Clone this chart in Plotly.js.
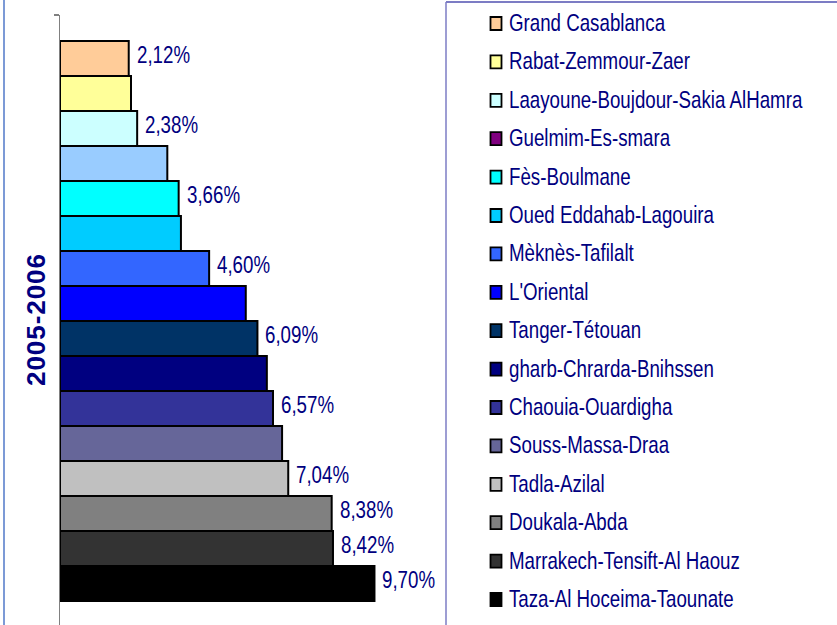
<!DOCTYPE html>
<html>
<head>
<meta charset="utf-8">
<script src="https://cdn.plot.ly/plotly-3.0.1.min.js"></script>
<style>html,body{margin:0;padding:0;background:#fff;}#chart{width:837px;height:625px;}</style>
</head>
<body>
<div id="chart"></div>
<script>
const regions = [
  'Grand Casablanca', 'Rabat-Zemmour-Zaer', 'Laayoune-Boujdour-Sakia AlHamra', 'Guelmim-Es-smara',
  'Fès-Boulmane', 'Oued Eddahab-Lagouira', 'Mèknès-Tafilalt', "L'Oriental",
  'Tanger-Tétouan', 'gharb-Chrarda-Bnihssen', 'Chaouia-Ouardigha', 'Souss-Massa-Draa',
  'Tadla-Azilal', 'Doukala-Abda', 'Marrakech-Tensift-Al Haouz', 'Taza-Al Hoceima-Taounate'
];
const values = [2.12, 2.19, 2.38, 3.31, 3.66, 3.73, 4.60, 5.73, 6.09, 6.38, 6.57, 6.85, 7.04, 8.38, 8.42, 9.70];
const valueLabels = ['2,12%', '', '2,38%', '', '3,66%', '', '4,60%', '', '6,09%', '', '6,57%', '', '7,04%', '8,38%', '8,42%', '9,70%'];
const barColors = ['#FFCC99', '#FFFF99', '#CCFFFF', '#99CCFF', '#00FFFF', '#00CCFF', '#3366FF', '#0000FF',
  '#003366', '#000080', '#333399', '#666699', '#C0C0C0', '#808080', '#333333', '#000000'];
const legendColors = ['#FFCC99', '#FFFF99', '#CCFFFF', '#800080', '#00FFFF', '#00CCFF', '#3366FF', '#0000FF',
  '#003366', '#000080', '#333399', '#666699', '#C0C0C0', '#808080', '#333333', '#000000'];
const categoryLabel = '2005-2006';

const W = 837, H = 625;
const M = {l: 60, r: 388, t: 15, b: 0};
const PW = W - M.l - M.r, PH = H - M.t - M.b;
const xp = px => (px - M.l) / PW;
const yp = py => (H - M.b - py) / PH;

const sans = 'Liberation Sans, Arial, sans-serif';
const navy = '#000080';
const SQUEEZE = 0.78;
const pos = regions.map((_, i) => i);

const trace = {
  type: 'bar', orientation: 'h',
  x: values, y: pos, width: 1,
  marker: {color: barColors, line: {color: '#000000', width: 2}},
  hoverinfo: 'none', showlegend: false
};

const annotations = [];
valueLabels.forEach((t, i) => {
  if (!t) return;
  annotations.push({
    x: values[i], y: pos[i], xref: 'x', yref: 'y', text: t, showarrow: false,
    xanchor: 'left', yanchor: 'middle', align: 'left', xshift: 6, yshift: 4,
    font: {family: sans, size: 24, color: navy}
  });
});

const shapes = [
  {type: 'line', xref: 'paper', yref: 'paper', x0: xp(4), x1: xp(4), y0: yp(0), y1: yp(625),
   line: {color: '#5078c8', width: 1.5}},
  {type: 'line', xref: 'paper', yref: 'paper', x0: xp(446), x1: xp(837), y0: yp(2), y1: yp(2),
   line: {color: '#7c7cc4', width: 2}},
  {type: 'line', xref: 'paper', yref: 'paper', x0: xp(446), x1: xp(446), y0: yp(2), y1: yp(625),
   line: {color: '#7c7cc4', width: 1.5}}
];
regions.forEach((name, i) => {
  const cy = 23.5 + 38.4 * i;
  shapes.push({type: 'rect', xref: 'paper', yref: 'paper',
    x0: xp(490.5), x1: xp(501.5), y0: yp(cy - 6.5), y1: yp(cy + 6.5),
    fillcolor: legendColors[i], line: {color: '#000000', width: 1.8}});
  annotations.push({x: xp(507), y: yp(cy - 1), xref: 'paper', yref: 'paper', text: name,
    showarrow: false, xanchor: 'left', yanchor: 'middle', align: 'left',
    font: {family: sans, size: 24, color: navy}});
});

const layout = {
  width: W, height: H,
  margin: M,
  paper_bgcolor: '#ffffff', plot_bgcolor: 'rgba(0,0,0,0)',
  showlegend: false,
  bargap: 0,
  xaxis: {range: [0, PW / 32.42], visible: false, fixedrange: true},
  yaxis: {
    type: 'linear', range: [-0.5 - 0.743 + PH / 35, -0.5 - 0.743],
    showgrid: false, zeroline: false, showline: true, linecolor: '#808080', linewidth: 1.5,
    ticks: 'outside', ticklen: 5, tickcolor: '#808080', tickwidth: 1.5,
    tickvals: [-0.5 - 0.743], showticklabels: false,
    title: {text: categoryLabel, standoff: 0,
      font: {family: sans, size: 26, color: navy, weight: 'bold'}},
    fixedrange: true
  },
  shapes: shapes,
  annotations: annotations
};

Plotly.newPlot('chart', [trace], layout, {displayModeBar: false, staticPlot: true}).then(gd => {
  // narrow (condensed) look of the original font: scale each text horizontally about its start
  gd.querySelectorAll('text.annotation-text').forEach(el => {
    const x0 = parseFloat(el.getAttribute('x')) || 0;
    const prev = el.getAttribute('transform') || '';
    el.setAttribute('transform',
      prev + ' translate(' + x0 + ',0) scale(' + SQUEEZE + ',1) translate(' + (-x0) + ',0)');
    const bg = el.parentNode && el.parentNode.querySelector('rect.bg');
    if (bg) {
      const w = el.getComputedTextLength();
      const bw = parseFloat(bg.getAttribute('width')) || 0;
      bg.setAttribute('width', Math.max(0, bw - w * (1 - SQUEEZE)).toFixed(1));
    }
  });
  // letter-spaced category label
  const yt = gd.querySelector('text.ytitle');
  if (yt) {
    yt.setAttribute('textLength', '132');
    yt.setAttribute('lengthAdjust', 'spacing');
  }
});
</script>
</body>
</html>
